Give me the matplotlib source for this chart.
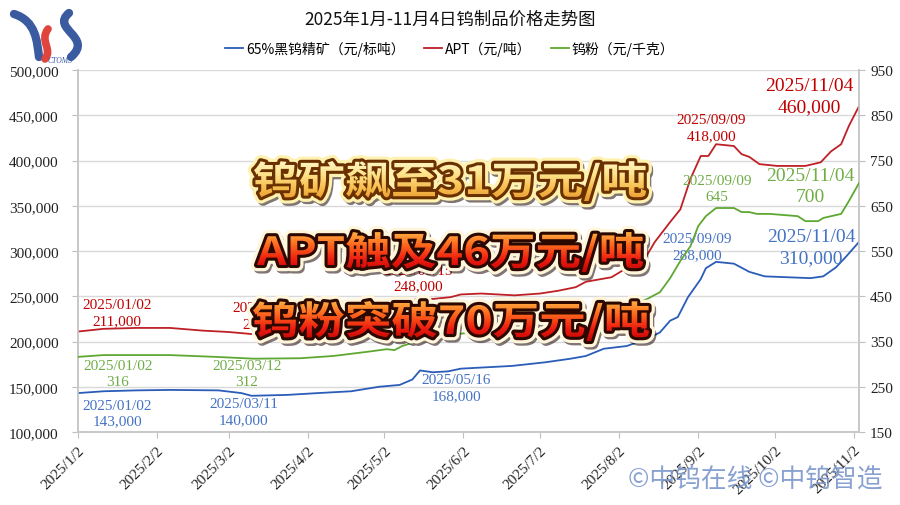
import numpy as np
import pandas as pd
import matplotlib
matplotlib.use('Agg')
import matplotlib.pyplot as plt
from matplotlib.font_manager import FontProperties
from matplotlib.textpath import TextPath
from matplotlib.patches import PathPatch
from matplotlib.path import Path
from matplotlib.transforms import Affine2D
from matplotlib.colors import LinearSegmentedColormap
from matplotlib.ticker import FuncFormatter

plt.rcParams['font.family'] = ['Noto Sans CJK SC', 'DejaVu Sans']

# ---- data ----
ore_dates = ['2025-01-02', '2025-01-12', '2025-01-25', '2025-02-07', '2025-02-26', '2025-03-07',
             '2025-03-11', '2025-03-25', '2025-04-06', '2025-04-19', '2025-04-30', '2025-05-08',
             '2025-05-13', '2025-05-16', '2025-05-21', '2025-05-27', '2025-06-01', '2025-06-21',
             '2025-07-04', '2025-07-14', '2025-07-20', '2025-07-27', '2025-08-05', '2025-08-13',
             '2025-08-18', '2025-08-22', '2025-08-25', '2025-08-29', '2025-09-01', '2025-09-03',
             '2025-09-05', '2025-09-09', '2025-09-16', '2025-09-22', '2025-09-28', '2025-10-07',
             '2025-10-16', '2025-10-21', '2025-10-26', '2025-10-30', '2025-11-04']
ore_price = [143000, 145000, 146000, 146500, 146000, 143000, 140000, 141000, 143000, 145000,
             150000, 152000, 158000, 168000, 166000, 167000, 170000, 173000, 177000, 181000,
             184000, 192000, 195000, 203000, 210000, 223000, 227000, 249000, 261000, 269000,
             281000, 288000, 286000, 277000, 272000, 271000, 270000, 272000, 282000, 294000,
             310000]

apt_dates = ['2025-01-02', '2025-01-12', '2025-01-25', '2025-02-07', '2025-02-20', '2025-03-02',
             '2025-03-12', '2025-03-25', '2025-04-10', '2025-04-25', '2025-05-05', '2025-05-10',
             '2025-05-15', '2025-05-21', '2025-05-28', '2025-06-01', '2025-06-09', '2025-06-22',
             '2025-07-02', '2025-07-09', '2025-07-16', '2025-07-20', '2025-07-30', '2025-08-09',
             '2025-08-12', '2025-08-16', '2025-08-22', '2025-08-26', '2025-08-30', '2025-09-03',
             '2025-09-06', '2025-09-09', '2025-09-16', '2025-09-19', '2025-09-22', '2025-09-26',
             '2025-10-03', '2025-10-14', '2025-10-20', '2025-10-24', '2025-10-28', '2025-10-31',
             '2025-11-04']
apt_price = [211000, 214000, 215000, 215000, 212000, 210500, 208000, 207000, 210000, 220000,
             232000, 240000, 248000, 247000, 249000, 252000, 253000, 251000, 253000, 256000,
             260000, 266000, 271000, 288000, 291000, 310000, 332000, 346000, 380000, 405000,
             405000, 418000, 416000, 407000, 404000, 396000, 394000, 394000, 398000, 410000,
             418000, 438000, 460000]

powder_dates = ['2025-01-02', '2025-01-12', '2025-02-07', '2025-02-25', '2025-03-12', '2025-03-30',
                '2025-04-12', '2025-04-25', '2025-05-03', '2025-05-06', '2025-05-09', '2025-05-16',
                '2025-05-23', '2025-06-02', '2025-06-20', '2025-07-10', '2025-07-25', '2025-08-02',
                '2025-08-08', '2025-08-13', '2025-08-18', '2025-08-22', '2025-08-26', '2025-08-30',
                '2025-09-02', '2025-09-05', '2025-09-09', '2025-09-16', '2025-09-19', '2025-09-22',
                '2025-09-25', '2025-09-30', '2025-10-11', '2025-10-14', '2025-10-19', '2025-10-21',
                '2025-10-28', '2025-10-31', '2025-11-04']
powder_price = [316, 320, 320, 316, 312, 313, 318, 327, 333, 331,
                340, 352, 360, 368, 375, 378, 395, 415, 433, 444,
                459, 490, 528, 561, 605, 627, 645, 645, 636, 636,
                632, 632, 627, 616, 616, 623, 632, 660, 700]

ore_marks = ['2025-01-02', '2025-03-11', '2025-05-16', '2025-09-09', '2025-11-04']
apt_marks = ['2025-01-02', '2025-03-12', '2025-05-15', '2025-09-09', '2025-11-04']
powder_marks = ['2025-01-02', '2025-03-12', '2025-09-09', '2025-11-04']

title = '2025年1月-11月4日钨制品价格走势图'
series_names = ['65%黑钨精矿（元/标吨）', 'APT（元/吨）', '钨粉（元/千克）']
month_ticks = ['2025-01-02', '2025-02-02', '2025-03-02', '2025-04-02', '2025-05-02', '2025-06-02',
               '2025-07-02', '2025-08-02', '2025-09-02', '2025-10-02', '2025-11-02']
headlines = ['钨矿飙至31万元/吨', 'APT触及46万元/吨', '钨粉突破70万元/吨']
watermark = '©中钨在线 ©中钨智造'

# label offsets in pixels (dx, dy; dy positive = down)
ore_offs = [(39, 20), (-8, 16), (36, 17), (-19, -15), (-48, 5)]
apt_offs = [(39, -19), (13, -19), (1, -20), (-5, -17), (-50, -10)]
powder_offs = [(40, 17), (-7, 15), (1, -20), (-49, 3)]

c_ore, c_apt, c_pow = '#2A5CB8', '#BE2026', '#5EA832'
lc_ore, lc_apt, lc_pow = '#4472C4', '#C00000', '#70AD47'
serif = 'Liberation Serif'

fig = plt.figure(figsize=(9, 5.06), dpi=100)
ax = fig.add_axes([78 / 900, 1 - 433 / 506, (859 - 78) / 900, (433 - 71) / 506])
ax2 = ax.twinx()

l1, = ax.plot(pd.to_datetime(ore_dates), ore_price, color=c_ore, lw=1.3, zorder=3)
l2, = ax.plot(pd.to_datetime(apt_dates), apt_price, color=c_apt, lw=1.3, zorder=3)
l3, = ax2.plot(pd.to_datetime(powder_dates), powder_price, color=c_pow, lw=1.3, zorder=3)

ax.set_xlim(pd.Timestamp('2025-01-02'), pd.Timestamp('2025-11-04'))
ax.set_ylim(100000, 500000)
ax2.set_ylim(150, 950)
ax.set_yticks(np.arange(100000, 500001, 50000))
ax2.set_yticks(np.arange(150, 951, 100))
ax.yaxis.set_major_formatter(FuncFormatter(lambda v, p: '{:,}'.format(int(v))))
ticks = pd.to_datetime(month_ticks)
ax.set_xticks(ticks)
ax.set_xticklabels(['{}/{}/{}'.format(t.year, t.month, t.day) for t in ticks],
                   rotation=45, ha='right', va='top', rotation_mode='anchor')

ax.yaxis.grid(True, color='#D9D9D9', lw=1)
ax.set_axisbelow(True)
for a in (ax, ax2):
    a.spines['top'].set_visible(False)
    for s in ('left', 'right', 'bottom'):
        a.spines[s].set_color('#C8C8C8')
        a.spines[s].set_linewidth(1.2)
ax.tick_params(axis='y', length=4, color='#BFBFBF', pad=10, labelsize=11, labelcolor='#222222')
ax2.tick_params(axis='y', length=4, color='#BFBFBF', pad=4, labelsize=11, labelcolor='#222222')
ax.tick_params(axis='x', length=4, color='#BFBFBF', pad=4, labelsize=11, labelcolor='#222222')
for lab in ax.get_yticklabels() + ax2.get_yticklabels() + ax.get_xticklabels():
    lab.set_fontfamily(serif)


def mark(axis, dates, vals, marks, offs, color, money):
    dts = pd.to_datetime(dates)
    for i, (m, (dx, dy)) in enumerate(zip(marks, offs)):
        t = pd.Timestamp(m)
        v = vals[list(dts).index(t)]
        vs = '{:,}'.format(v) if money else str(v)
        big = i == len(marks) - 1
        axis.annotate('{}\n{}'.format(t.strftime('%Y/%m/%d'), vs), xy=(t, v),
                      xytext=(dx * 0.72, -dy * 0.72), textcoords='offset points',
                      ha='center', va='center', color=color, family=serif,
                      fontsize=14 if big else 11, linespacing=1.3, zorder=5)


mark(ax, ore_dates, ore_price, ore_marks, ore_offs, lc_ore, True)
mark(ax, apt_dates, apt_price, apt_marks, apt_offs, lc_apt, True)
mark(ax2, powder_dates, powder_price, powder_marks, powder_offs, lc_pow, False)

fig.text(0.5, 1 - 20 / 506, title, ha='center', va='center', fontsize=12.5, color='#111111')
fig.legend([l1, l2, l3], series_names, loc='center', bbox_to_anchor=(0.5, 1 - 49 / 506),
           ncol=3, frameon=False, fontsize=10, handlelength=1.3, handletextpad=0.2,
           columnspacing=1.4)

# ---- overlay: headlines, logo, watermark (pixel coordinates) ----
ov = fig.add_axes([0, 0, 1, 1], zorder=10)
ov.patch.set_alpha(0)
ov.axis('off')

hfont = FontProperties(family='Noto Sans CJK SC', weight='bold')


def fancy_text(s, cx, cy, w, h, colors, edge, glow):
    tp = TextPath((0, 0), s, size=100, prop=hfont)
    bb = tp.get_extents()
    base = Affine2D().translate(-bb.x0 - bb.width / 2, -bb.y0 - bb.height / 2).scale(w / bb.width, -h / bb.height)
    tr = base.frozen().translate(cx, cy) + ov.transData
    sh = base.frozen().translate(cx + 2, cy + 3) + ov.transData
    ov.add_patch(PathPatch(tp, transform=sh, fc='#1a0500', ec='#1a0500', lw=8, alpha=0.55,
                           joinstyle='round', zorder=1))
    ov.add_patch(PathPatch(tp, transform=tr, fc=glow, ec=glow, lw=9, joinstyle='round', zorder=2))
    ov.add_patch(PathPatch(tp, transform=tr, fc=edge, ec=edge, lw=4.4, joinstyle='round', zorder=3))
    clip = PathPatch(tp, transform=tr, fc='none', ec='none', zorder=4)
    ov.add_patch(clip)
    grad = np.linspace(0, 1, 128).reshape(-1, 1)
    cmap = LinearSegmentedColormap.from_list('g', colors)
    im = ov.imshow(grad, extent=[cx - w / 2 - 5, cx + w / 2 + 5, cy + h / 2 + 3, cy - h / 2 - 3],
                   cmap=cmap, aspect='auto', zorder=5, interpolation='bilinear')
    im.set_clip_path(clip)


gold = ['#FFF8D2', '#FFE58E', '#F6BC4C', '#E58E2A']
redg = ['#FFC04A', '#FF6A1E', '#EE1C10', '#B50000']
fancy_text(headlines[0], 450, 182, 392, 40, gold, '#6A3000', '#FFF1B0')
fancy_text(headlines[1], 450, 253, 386, 40, redg, '#2B0800', '#FFF6DC')
fancy_text(headlines[2], 451, 322, 396, 40, redg, '#2B0800', '#FFF6DC')

# logo
blue_logo, red_logo = '#3A5BA0', '#E0443C'
for pts, col, lw in [([(14, 15), (36, 22), (37, 42), (39, 58)], blue_logo, 6),
                     ([(48, 30), (39, 42), (53, 50), (45, 60)], red_logo, 5.5),
                     ([(69, 14), (50, 30), (94, 38), (71, 58)], blue_logo, 6)]:
    p = Path(pts, [Path.MOVETO, Path.CURVE4, Path.CURVE4, Path.CURVE4])
    ov.add_patch(PathPatch(p, fc='none', ec=col, lw=lw, capstyle='round', zorder=6))
ov.text(60, 61, 'CTOMS', ha='center', va='center', fontsize=5.5, color=blue_logo,
        family=serif, style='italic', zorder=6)

ov.text(755, 480, watermark, ha='center', va='center', fontsize=18.5, color='#7C97CC',
        alpha=0.9, family=['Noto Sans CJK SC', 'DejaVu Sans'], zorder=6)

ov.set_xlim(0, 900)
ov.set_ylim(506, 0)

fig.savefig('out.png', dpi=100)
